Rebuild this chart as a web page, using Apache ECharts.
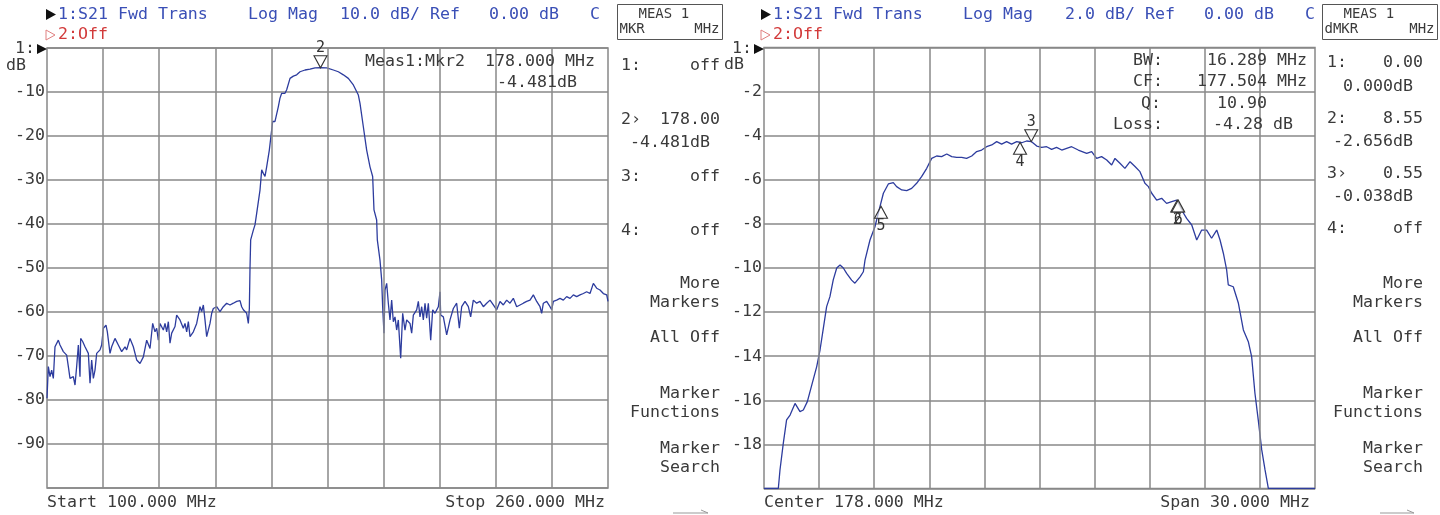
<!DOCTYPE html>
<html>
<head>
<meta charset="utf-8">
<title>S21 Fwd Trans</title>
<script src="https://cdn.jsdelivr.net/npm/echarts@6/dist/echarts.min.js"></script>
<style>
  html, body { margin: 0; padding: 0; background: #fff; }
  #main { width: 1440px; height: 515px; }
</style>
</head>
<body>
<div id="main"></div>
<script>
// 左图：宽带扫描 100 - 260 MHz，10 dB/格
const wideStart = 100, wideStop = 260;
const wideFreq = [
  100.0, 100.38, 100.86, 101.33, 101.81, 102.28, 102.76, 103.23, 103.71, 104.66,
  105.61, 106.09, 106.56, 107.04, 107.51, 107.99, 108.46, 108.94, 109.41, 109.60,
  110.17, 110.84, 111.79, 112.27, 112.74, 113.22, 113.69, 114.17, 115.12, 115.59,
  116.07, 116.83, 117.21, 117.97, 118.44, 119.39, 120.34, 121.30, 122.25, 122.72,
  123.67, 124.62, 125.58, 126.53, 127.48, 128.43, 129.38, 130.14, 130.80, 131.28,
  131.75, 132.23, 133.18, 133.66, 134.13, 134.61, 135.08, 135.56, 136.51, 136.98,
  137.93, 138.88, 139.36, 139.84, 140.31, 140.79, 141.74, 142.69, 143.16, 143.64,
  144.11, 144.59, 145.06, 145.54, 146.01, 146.49, 146.97, 147.44, 148.39, 149.34,
  150.29, 151.24, 152.19, 153.15, 154.10, 155.05, 155.52, 156.00, 156.95, 157.42,
  157.71, 157.90, 158.09, 158.85, 159.32, 159.80, 160.75, 161.23, 161.70, 162.18,
  162.65, 163.41, 164.08, 164.36, 165.03, 165.50, 165.98, 166.45, 166.93, 167.41,
  167.88, 168.36, 169.31, 170.26, 171.21, 172.16, 173.59, 175.01, 176.44, 178.00,
  179.76, 181.67, 183.09, 184.52, 185.94, 187.37, 188.80, 189.27, 190.22, 191.17,
  192.12, 192.88, 193.26, 194.02, 194.21, 194.97, 195.45, 195.73, 196.11, 196.40,
  196.88, 197.35, 197.83, 198.30, 198.78, 199.25, 199.73, 200.20, 200.49, 200.87,
  201.44, 202.10, 202.58, 203.53, 204.01, 204.48, 205.43, 205.91, 206.38, 206.86,
  207.33, 207.81, 208.28, 208.76, 209.43, 210.00, 210.66, 211.61, 212.09, 212.28,
  213.04, 213.99, 214.94, 215.89, 216.84, 217.60, 218.27, 219.22, 220.17, 220.83,
  221.59, 222.54, 223.50, 224.45, 225.40, 226.35, 227.30, 228.25, 229.20, 230.15,
  231.10, 232.05, 233.00, 233.95, 234.90, 235.85, 236.81, 237.76, 238.71, 239.66,
  240.61, 241.08, 241.56, 242.51, 243.46, 243.94, 244.41, 245.36, 246.31, 247.26,
  248.21, 249.17, 250.12, 251.07, 252.02, 252.97, 253.92, 254.87, 255.82, 256.77,
  257.72, 258.67, 259.63, 260.0
];
const wideMag = [
  -79.6, -72.4, -74.7, -73.2, -75.1, -67.9, -68.3, -66.4, -67.5, -69.0,
  -69.8, -72.4, -75.1, -75.4, -74.7, -76.6, -72.4, -67.5, -74.7, -66.0,
  -66.7, -67.9, -69.4, -76.2, -70.9, -75.1, -73.2, -69.4, -68.6, -67.5,
  -63.7, -63.0, -64.5, -69.4, -67.9, -66.0, -67.5, -69.0, -67.9, -68.6,
  -66.0, -67.9, -70.9, -71.7, -70.2, -66.4, -68.3, -62.6, -64.5, -63.7,
  -66.4, -62.6, -64.1, -62.6, -64.5, -62.2, -67.1, -64.8, -63.3, -60.7,
  -61.8, -63.7, -62.6, -64.5, -62.2, -65.6, -64.5, -62.6, -63.0, -58.8,
  -59.9, -58.4, -61.8, -65.6, -65.2, -62.6, -60.3, -59.2, -58.8, -59.9,
  -58.8, -58.0, -58.4, -58.0, -57.6, -57.4, -58.8, -59.5, -60.3, -62.6,
  -59.2, -50.0, -43.6, -41.4, -40.2, -37.6, -32.3, -27.7, -28.5, -29.2,
  -27.0, -23.2, -18.6, -16.7, -16.7, -16.4, -13.3, -11.4, -10.3, -10.7,
  -10.3, -9.5, -6.9, -6.4, -6.1, -5.4, -5.0, -4.8, -4.5, -4.481,
  -4.5, -5.0, -5.4, -6.1, -6.9, -8.4, -10.7, -12.6, -17.9, -23.2,
  -27.0, -29.2, -36.8, -39.1, -43.6, -48.2, -52.7, -58.8, -64.8, -55.0,
  -53.5, -58.0, -61.8, -57.3, -62.2, -61.1, -64.1, -61.8, -65.6, -70.5,
  -60.3, -64.1, -61.8, -62.6, -64.8, -60.7, -59.5, -57.6, -61.1, -58.8,
  -61.8, -58.0, -61.4, -58.0, -66.4, -59.5, -60.3, -58.8, -55.4, -60.7,
  -61.1, -65.2, -61.8, -59.2, -58.0, -63.7, -58.8, -57.6, -58.8, -61.1,
  -57.3, -58.0, -57.6, -58.8, -58.0, -57.3, -58.4, -59.5, -57.6, -58.4,
  -57.3, -58.0, -56.9, -58.8, -58.4, -58.0, -57.6, -57.3, -56.1, -57.6,
  -58.8, -60.3, -58.0, -57.6, -58.8, -59.5, -57.6, -57.3, -56.9, -57.3,
  -56.5, -56.9, -56.1, -56.5, -56.1, -55.8, -55.4, -55.8, -53.5, -54.6,
  -55.0, -55.8, -56.1, -57.6
];
const wideMarkerNames = ['2'];
const wideMarkerFreq = [178.0];
const wideMarkerMag = [-4.481];
const wideMarkerDir = ['down'];

// 右图：中心 178 MHz，跨度 30 MHz，2 dB/格
const zoomCenter = 178, zoomSpan = 30;
const zoomFreq = [
  163.00, 163.78, 163.87, 164.05, 164.23, 164.42, 164.69, 164.96, 165.14, 165.36,
  165.60, 165.87, 166.05, 166.23, 166.41, 166.59, 166.77, 166.96, 167.14, 167.32,
  167.50, 167.77, 167.95, 168.23, 168.41, 168.50, 168.77, 169.04, 169.22, 169.50,
  169.77, 170.04, 170.22, 170.50, 170.77, 171.04, 171.31, 171.58, 171.86, 172.13,
  172.40, 172.67, 172.95, 173.22, 173.49, 173.76, 174.03, 174.31, 174.58, 174.85,
  175.12, 175.40, 175.67, 175.94, 176.21, 176.48, 176.76, 177.03, 177.30, 177.57,
  177.85, 178.12, 178.39, 178.66, 178.93, 179.21, 179.48, 179.75, 180.11, 180.57,
  180.84, 181.11, 181.38, 181.66, 181.93, 182.11, 182.38, 182.65, 182.93, 183.20,
  183.47, 183.74, 183.93, 184.11, 184.38, 184.65, 184.92, 185.20, 185.47, 185.74,
  186.01, 186.29, 186.56, 186.83, 187.10, 187.37, 187.65, 187.83, 188.01, 188.19,
  188.28, 188.55, 188.83, 189.10, 189.37, 189.55, 189.73, 189.91, 190.10, 190.28,
  190.46, 190.55, 193.00
];
const zoomMag = [
  -20.0, -20.0, -19.16, -17.95, -16.89, -16.67, -16.14, -16.51, -16.44, -16.06,
  -15.31, -14.47, -13.72, -12.74, -11.75, -11.30, -10.54, -10.0, -9.86, -10.0,
  -10.24, -10.55, -10.69, -10.4, -10.17, -9.64, -8.73, -8.13, -7.52, -6.61,
  -6.19, -6.13, -6.31, -6.46, -6.49, -6.39, -6.16, -5.86, -5.48, -5.03,
  -4.92, -4.95, -4.83, -4.95, -4.98, -4.98, -5.03, -4.92, -4.72, -4.65,
  -4.50, -4.42, -4.27, -4.38, -4.27, -4.38, -4.27, -4.32, -4.24, -4.27,
  -4.47, -4.53, -4.50, -4.62, -4.53, -4.65, -4.57, -4.50, -4.65, -4.80,
  -4.72, -5.03, -4.95, -5.10, -5.33, -5.03, -5.25, -5.48, -5.18, -5.40,
  -5.63, -6.16, -6.31, -6.61, -6.92, -6.84, -7.07, -6.99, -6.92, -7.37,
  -7.75, -8.05, -8.73, -8.28, -8.28, -8.65, -8.28, -8.73, -9.33, -10.09,
  -10.77, -10.85, -11.60, -12.81, -13.34, -14.02, -15.68, -16.89, -18.25, -19.16,
  -19.99, -20.0, -20.0
];
const zoomMarkerNames = ['5', '4', '3', '2', '6'];
const zoomMarkerFreq = [169.37, 176.94, 177.55, 185.50, 185.55];
const zoomMarkerMag = [-7.2, -4.3, -4.27, -6.92, -6.92];
const zoomMarkerDir = ['up', 'up', 'down', 'up', 'up'];

// 右侧软键菜单
const wideReadout = [['1:', 'off'], ['2\u203a', '178.00'], ['3:', 'off'], ['4:', 'off']];
const zoomReadout = [['1:', '0.00'], ['2:', '8.55'], ['3\u203a', '0.55'], ['4:', 'off']];
const softKeys = ['More', 'Markers', 'All Off', 'Marker', 'Functions', 'Marker', 'Search'];

const MONO = '"DejaVu Sans Mono", "Liberation Mono", monospace';
const FONT = '16.6px ' + MONO;
const TEXT_COLOR = '#3a3a3a';
const GRID_COLOR = '#888';
const TRACE_COLOR = '#2d3c9e';
const HEAD_BLUE = '#3a4fb6';
const HEAD_RED = '#d23a3a';

function pairs(xs, ys) {
  return xs.map((x, i) => [x, ys[i]]);
}

function txt(x, y, s, opt) {
  opt = opt || {};
  return {
    type: 'text', x: x, y: y, silent: true, z: 10,
    style: {
      text: s, fill: opt.color || TEXT_COLOR, font: opt.font || FONT,
      textAlign: opt.align || 'left', align: opt.align || 'left',
      textVerticalAlign: 'middle', verticalAlign: 'middle'
    }
  };
}

function tri(points, fill, stroke) {
  return {
    type: 'polygon', silent: true, z: 10,
    shape: { points: points },
    style: { fill: fill, stroke: stroke || null, lineWidth: 1 }
  };
}

function vLines(start, stop) {
  const step = (stop - start) / 10;
  const out = [];
  for (let i = 1; i < 10; i++) out.push({ xAxis: start + step * i });
  return out;
}

function markers(names, freq, mag, dir) {
  return names.map((n, i) => {
    const down = dir[i] === 'down';
    return {
      coord: [freq[i], mag[i]],
      symbol: down ? 'path://M0,0L14,0L7,12Z' : 'path://M7,0L14,12L0,12Z',
      symbolSize: [13, 12],
      symbolOffset: [0, down ? -6 : 6],
      label: {
        show: true, formatter: n, position: down ? 'top' : 'bottom', distance: 0,
        color: '#333', fontFamily: MONO, fontSize: 15
      }
    };
  });
}

function yAxis(idx, min, step) {
  return {
    type: 'value', gridIndex: idx, min: min, max: 0, interval: step,
    axisLine: { show: false }, axisTick: { show: false },
    axisLabel: {
      margin: 2, color: TEXT_COLOR, fontFamily: MONO, fontSize: 16.6,
      formatter: v => (v === 0 || v === min) ? '' : String(v)
    },
    splitLine: { show: true, lineStyle: { color: GRID_COLOR, width: 1.5 } }
  };
}

function xAxis(idx, min, max) {
  return {
    type: 'value', gridIndex: idx, min: min, max: max,
    axisLine: { show: false }, axisTick: { show: false },
    axisLabel: { show: false }, splitLine: { show: false }
  };
}

function gridLineSeries(idx, start, stop) {
  return {
    type: 'line', xAxisIndex: idx, yAxisIndex: idx, data: [], z: 1, silent: true,
    markLine: {
      silent: true, symbol: ['none', 'none'], label: { show: false },
      lineStyle: { color: GRID_COLOR, width: 1.5, type: 'solid' },
      emphasis: { disabled: true },
      data: vLines(start, stop)
    }
  };
}

function traceSeries(idx, xs, ys, mk) {
  return {
    type: 'line', xAxisIndex: idx, yAxisIndex: idx, z: 3,
    data: pairs(xs, ys), showSymbol: false, smooth: false, clip: true,
    lineStyle: { color: TRACE_COLOR, width: 1.3 },
    emphasis: { disabled: true },
    markPoint: {
      silent: true,
      itemStyle: { color: 'rgba(255,255,255,0.6)', borderColor: '#333', borderWidth: 1.1 },
      data: mk
    }
  };
}

const zoomStart = zoomCenter - zoomSpan / 2;
const zoomStop = zoomCenter + zoomSpan / 2;

// 文字与框
const graphics = [];
function header(x0, scaleText, boxX, boxW, boxLeft) {
  graphics.push(tri([[x0, 9], [x0 + 10, 14.5], [x0, 20]], '#111'));
  graphics.push(txt(x0 + 12, 15, '1:S21 Fwd Trans', { color: HEAD_BLUE }));
  graphics.push(txt(x0 + 202, 15, 'Log Mag', { color: HEAD_BLUE }));
  graphics.push(txt(x0 + 334, 15, scaleText, { color: HEAD_BLUE, align: 'right' }));
  graphics.push(txt(x0 + 344, 15, 'dB/', { color: HEAD_BLUE }));
  graphics.push(txt(x0 + 384, 15, 'Ref', { color: HEAD_BLUE }));
  graphics.push(txt(x0 + 443, 15, '0.00', { color: HEAD_BLUE }));
  graphics.push(txt(x0 + 493, 15, 'dB', { color: HEAD_BLUE }));
  graphics.push(txt(x0 + 544, 15, 'C', { color: HEAD_BLUE }));
  graphics.push(tri([[x0, 30], [x0 + 9, 35], [x0, 40]], 'none', '#e08080'));
  graphics.push(txt(x0 + 12, 35, '2:Off', { color: HEAD_RED }));
  graphics.push({
    type: 'rect', silent: true, z: 10,
    shape: { x: boxX, y: 4.5, width: boxW, height: 35 },
    style: { fill: 'none', stroke: '#555', lineWidth: 1 }
  });
  graphics.push(txt(boxX + 21, 14, 'MEAS 1', { font: '14px ' + MONO }));
  graphics.push(txt(boxX + 2, 29, boxLeft, { font: '14px ' + MONO }));
  graphics.push(txt(boxX + boxW - 3, 29, 'MHz', { font: '14px ' + MONO, align: 'right' }));
}
header(46, '10.0', 617.5, 105, 'MKR');
header(761, '2.0', 1322.5, 115, 'dMKR');

// 纵轴单位
graphics.push(txt(35, 49, '1:', { align: 'right' }));
graphics.push(tri([[37, 44], [47, 49], [37, 54]], '#111'));
graphics.push(txt(16, 66, 'dB', { align: 'center' }));
graphics.push(txt(752, 49, '1:', { align: 'right' }));
graphics.push(tri([[754, 44], [764, 49], [754, 54]], '#111'));
graphics.push(txt(734, 65, 'dB', { align: 'center' }));

// 扫描范围
graphics.push(txt(47, 503, 'Start ' + wideStart.toFixed(3) + ' MHz'));
graphics.push(txt(605, 503, 'Stop ' + wideStop.toFixed(3) + ' MHz', { align: 'right' }));
graphics.push(txt(764, 503, 'Center ' + zoomCenter.toFixed(3) + ' MHz'));
graphics.push(txt(1310, 503, 'Span ' + zoomSpan.toFixed(3) + ' MHz', { align: 'right' }));

// 标记读数
graphics.push(txt(365, 62, 'Meas1:Mkr2'));
graphics.push(txt(485, 62, wideMarkerFreq[0].toFixed(3) + ' MHz'));
graphics.push(txt(497, 83, wideMarkerMag[0].toFixed(3) + 'dB'));

graphics.push(txt(1163, 61, 'BW:', { align: 'right' }));
graphics.push(txt(1207, 61, '16.289 MHz'));
graphics.push(txt(1163, 82, 'CF:', { align: 'right' }));
graphics.push(txt(1197, 82, '177.504 MHz'));
graphics.push(txt(1161, 104, 'Q:', { align: 'right' }));
graphics.push(txt(1217, 104, '10.90'));
graphics.push(txt(1163, 125, 'Loss:', { align: 'right' }));
graphics.push(txt(1213, 125, '-4.28 dB'));

// 软键区
function panel(xL, xR, rows, subs, subRight, rowY, subY) {
  rows.forEach((r, i) => {
    graphics.push(txt(xL, rowY[i], r[0]));
    graphics.push(txt(xR, rowY[i], r[1], { align: 'right' }));
  });
  subs.forEach((s, i) => {
    if (s) graphics.push(txt(subRight, subY[i], s, { align: 'right' }));
  });
  const keyY = [284, 303, 338, 394, 413, 449, 468];
  softKeys.forEach((k, i) => graphics.push(txt(xR, keyY[i], k, { align: 'right' })));
}
panel(621, 720, wideReadout, ['', '-4.481dB', '', ''], 710, [66, 120, 177, 231], [0, 143, 0, 0]);
panel(1327, 1423, zoomReadout, ['0.000dB', '-2.656dB', '-0.038dB', ''], 1413, [63, 119, 174, 229], [87, 142, 197, 0]);

// 底部小箭头
[[673, 708], [1380, 1414]].forEach(a => {
  graphics.push({
    type: 'polyline', silent: true, z: 10,
    shape: { points: [[a[0], 513], [a[1], 513], [a[1] - 7, 510]] },
    style: { stroke: '#999', lineWidth: 1, fill: 'none' }
  });
});

const chart = echarts.init(document.getElementById('main'));
chart.setOption({
  animation: false,
  backgroundColor: '#fff',
  grid: [
    { left: 47, top: 48, width: 561, height: 440, show: true, borderColor: GRID_COLOR, borderWidth: 1.5 },
    { left: 764, top: 47.5, width: 551, height: 441, show: true, borderColor: GRID_COLOR, borderWidth: 1.5 }
  ],
  xAxis: [xAxis(0, wideStart, wideStop), xAxis(1, zoomStart, zoomStop)],
  yAxis: [yAxis(0, -100, 10), yAxis(1, -20, 2)],
  series: [
    gridLineSeries(0, wideStart, wideStop),
    gridLineSeries(1, zoomStart, zoomStop),
    traceSeries(0, wideFreq, wideMag, markers(wideMarkerNames, wideMarkerFreq, wideMarkerMag, wideMarkerDir)),
    traceSeries(1, zoomFreq, zoomMag, markers(zoomMarkerNames, zoomMarkerFreq, zoomMarkerMag, zoomMarkerDir))
  ],
  graphic: graphics
});
</script>
</body>
</html>
